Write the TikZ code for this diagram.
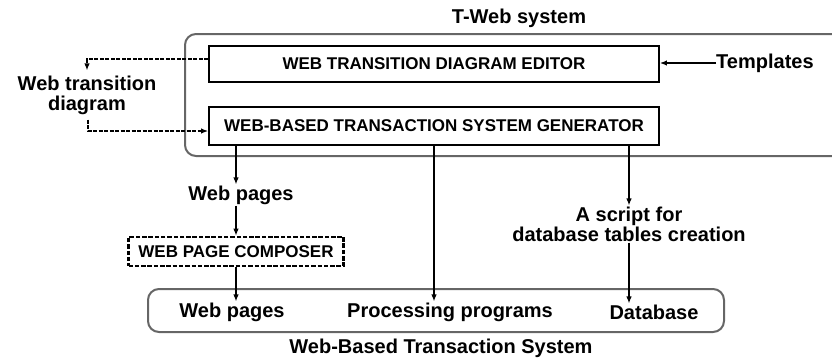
\documentclass[tikz,border=0pt]{standalone}
\usepackage{fontspec}
\setmainfont{Liberation Sans}
\usetikzlibrary{arrows.meta}
\begin{document}
\begin{tikzpicture}[x=1pt,y=-1pt,
  lbl/.style={font=\fontsize{20}{20}\selectfont\bfseries, inner sep=1pt, align=center},
  boxtxt/.style={font=\fontsize{17}{17}\selectfont\bfseries},
  mainbox/.style={boxtxt, draw, line width=1.8pt, minimum width=450pt, inner sep=0pt},
  compbox/.style={boxtxt, draw, line width=2.6pt, dash pattern=on 4.5pt off 1.8pt, minimum width=215pt, minimum height=29pt, inner sep=0pt},
  grayframe/.style={draw=black!60, line width=2pt, rounded corners=11pt},
  arr/.style={line width=1.3pt, -{Latex[length=7pt,width=5.5pt]}},
  darr/.style={arr, dash pattern=on 4pt off 1.5pt}
]
\useasboundingbox (0,0) rectangle (832,360);
% T-Web system frame (open to the right)
\draw[grayframe] (834,34) -- (185,34) -- (185,156) -- (834,156);
\node[lbl] (tweb) at (519,18) {T-Web system};
\node[mainbox, minimum height=36pt] (editor) at (434,64) {WEB TRANSITION DIAGRAM EDITOR};
\node[mainbox, minimum height=38pt] (gen) at (434,126) {WEB-BASED TRANSACTION SYSTEM GENERATOR};
\node[lbl, anchor=west, inner sep=0pt] (tmpl) at (716,63) {Templates};
\node[lbl, inner sep=5pt] (wtd) at (87,95) {Web transition\\diagram};
\draw[darr] ([yshift=5pt]editor.west) -| (wtd.north);
\draw[darr] ([xshift=1pt]wtd.south) |- ([yshift=-5pt]gen.west);
\draw[arr] (tmpl.west) -- (tmpl.west -| editor.east);
% outputs of the generator
\node[lbl] (wp1) at (241,195) {Web pages};
\node[compbox] (comp) at (236,251.5) {WEB PAGE COMPOSER};
\node[lbl] (script) at (629,224) {A script for\\database tables creation};
% Web-Based Transaction System
\draw[grayframe] (148,289) rectangle (724,332);
\node[lbl] (bwp) at (232,312) {Web pages};
\node[lbl] (pp) at (450,312) {Processing programs};
\node[lbl] (db) at (654,312) {Database};
\node[lbl] (wbts) at (441,348) {Web-Based Transaction System};
\draw[arr] (gen.south -| comp.north) -- (comp.north |- wp1.north);
\draw[arr] (comp.north |- wp1.south) -- (comp.north);
\draw[arr] (comp.south) -- (comp.south |- bwp.north);
\draw[arr] (gen.south) -- (gen.south |- pp.north);
\draw[arr] (script.north |- gen.south) -- (script.north);
\draw[arr] (script.south) -- (script.south |- db.north);
\end{tikzpicture}
\end{document}
